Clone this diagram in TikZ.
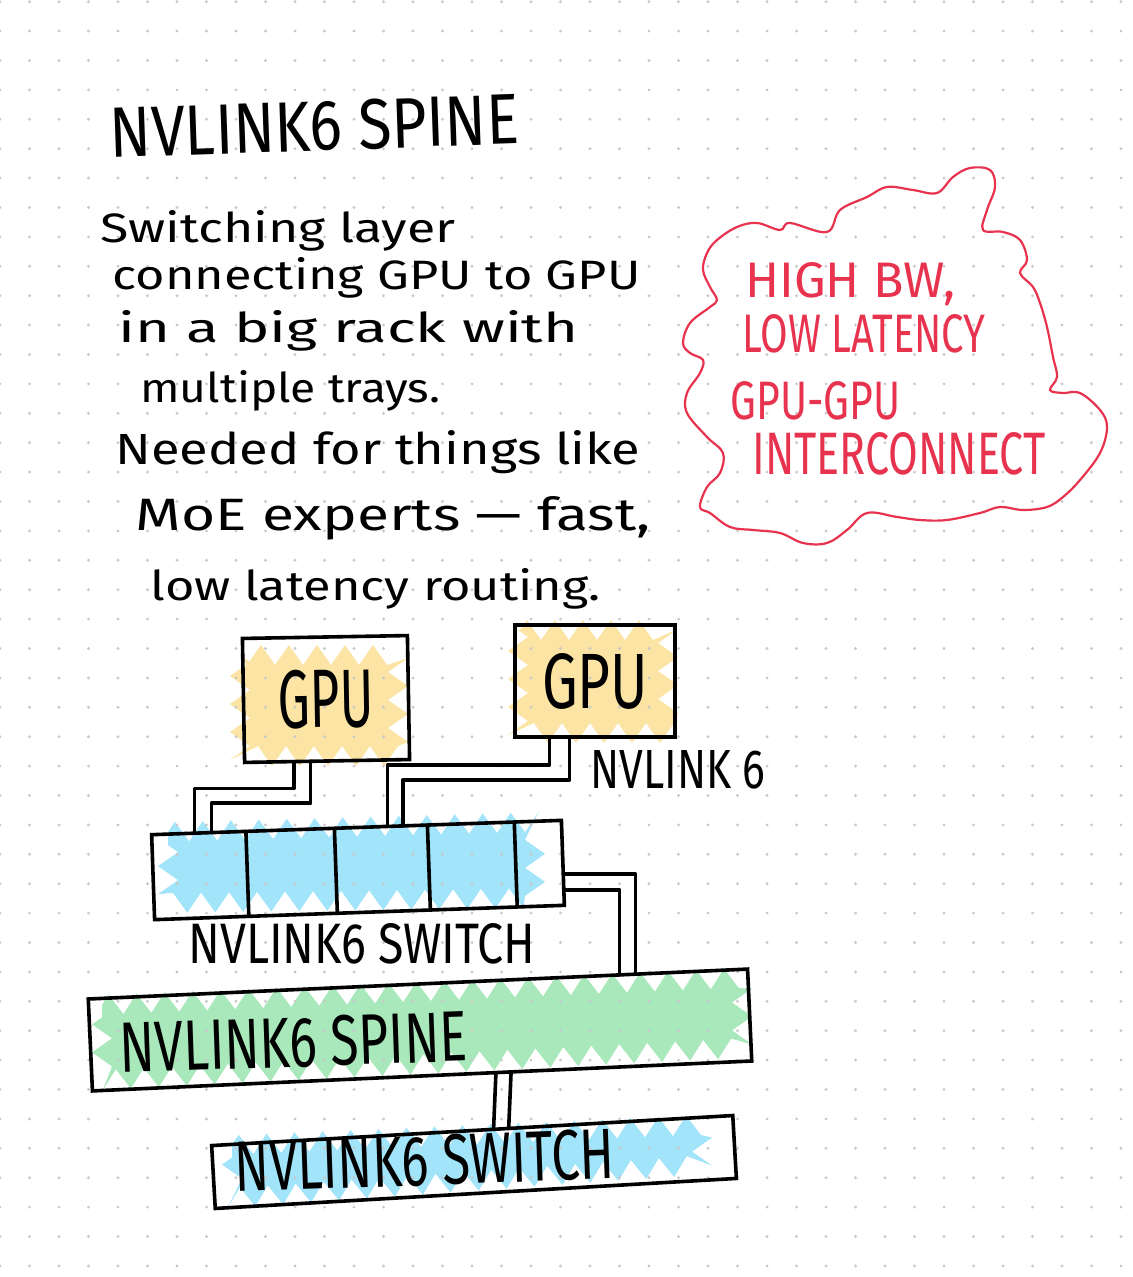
\documentclass[tikz,border=0pt]{standalone}
\usepackage{fontspec}
\setmainfont{Fira Sans}
\usetikzlibrary{calc,backgrounds,decorations.pathmorphing}
\definecolor{inkred}{HTML}{E8334F}
\definecolor{hlyellow}{HTML}{FBE4A4}
\definecolor{hlblue}{HTML}{A2E4FA}
\definecolor{hlgreen}{HTML}{A8E8BA}
\definecolor{dotgray}{HTML}{C9C9C9}
\begin{document}
\begin{tikzpicture}[x=0.5pt,y=-0.5pt,
  box/.style={draw=black, line width=1.8pt, inner sep=0pt, outer sep=0pt},
  cable/.style={line width=1.8pt, line join=round, line cap=round},
  hw/.style={inner sep=0pt, anchor=base west, text=black},
  redtxt/.style={hw, text=inkred},
  hl/.style={decorate, decoration={zigzag, segment length=14pt, amplitude=5pt}},
  cloudline/.style={draw=inkred, line width=1.1pt}
]
\useasboundingbox (0,0) rectangle (1132,1277);

% ---------- boxes ----------
\node[box, minimum width=82.5pt, minimum height=62pt, rotate=1] (gpu1) at (326,699)
  {\resizebox{48pt}{29pt}{GPU}};
\node[box, minimum width=80pt, minimum height=56pt] (gpu2) at (595,681)
  {\resizebox{53pt}{27.5pt}{GPU}};
\node[box, minimum width=205pt, minimum height=42.5pt, rotate=2] (sw1) at (358,870) {};
\node[box, minimum width=330pt, minimum height=46pt, rotate=2.6] (spine) at (420,1030) {};
\node[box, minimum width=261pt, minimum height=31.5pt, rotate=3.3] (sw2) at (474,1162) {};

% dividers of the top switch
\foreach \f in {0.23,0.446,0.673,0.885}
  \draw[cable] ($(sw1.north west)!\f!(sw1.north east)$) -- ($(sw1.south west)!\f!(sw1.south east)$);

% ---------- cables ----------
\draw[cable] ($(gpu1.south west)!0.30!(gpu1.south east)$) -- ++(0,27) -| ($(sw1.north west)!0.105!(sw1.north east)$);
\draw[cable] ($(gpu1.south west)!0.40!(gpu1.south east)$) -- ++(0,42) -| ($(sw1.north west)!0.146!(sw1.north east)$);
\draw[cable] ($(gpu2.south west)!0.215!(gpu2.south east)$) -- ++(0,28) -| ($(sw1.north west)!0.576!(sw1.north east)$);
\draw[cable] ($(gpu2.south west)!0.34!(gpu2.south east)$) -- ++(0,43) -| ($(sw1.north west)!0.613!(sw1.north east)$);
\draw[cable] ($(sw1.north east)!0.63!(sw1.south east)$) -| ($(spine.north west)!0.83!(spine.north east)$);
\draw[cable] ($(sw1.north east)!0.82!(sw1.south east)$) -| ($(spine.north west)!0.806!(spine.north east)$);
\draw[cable] ($(spine.south west)!0.612!(spine.south east)$) -- ($(sw2.north west)!0.541!(sw2.north east)$);
\draw[cable] ($(spine.south west)!0.635!(spine.south east)$) -- ($(sw2.north west)!0.57!(sw2.north east)$);

% ---------- labels ----------
\node[hw, rotate=2] (title) at (110,158) {\resizebox{205pt}{25pt}{NVLINK6 SPINE}};
\node[hw] (t1) at (100,243) {\resizebox{177.5pt}{16pt}{Switching layer}};
\node[hw] (t2) at (112,290) {\resizebox{264pt}{16pt}{connecting GPU to GPU}};
\node[hw] (t3) at (118,343) {\resizebox{230pt}{16pt}{in a big rack with}};
\node[hw] (t4) at (140,403) {\resizebox{150pt}{16pt}{multiple trays.}};
\node[hw] (t5) at (115,465) {\resizebox{262.5pt}{17pt}{Needed for things like}};
\node[hw] (t6) at (135,530) {\resizebox{257.5pt}{17pt}{MoE experts — fast,}};
\node[hw] (t7) at (150,600) {\resizebox{225pt}{16pt}{low latency routing.}};

\node[redtxt] (r1) at (745,298) {\resizebox{105pt}{17.5pt}{HIGH BW,}};
\node[redtxt] (r2) at (742,353) {\resizebox{121.5pt}{19pt}{LOW LATENCY}};
\node[redtxt] (r3) at (730,420) {\resizebox{85pt}{19pt}{GPU-GPU}};
\node[redtxt] (r4) at (752,474) {\resizebox{146.5pt}{21pt}{INTERCONNECT}};

\node[hw] (lnk) at (590,788) {\resizebox{87.5pt}{19pt}{NVLINK 6}};
\node[hw] (lsw1) at (188,963) {\resizebox{173.5pt}{20pt}{NVLINK6 SWITCH}};
\node[hw, rotate=2] (lsp) at (120,1073) {\resizebox{174pt}{25pt}{NVLINK6 SPINE}};
\node[hw, rotate=2] (lsw2) at (235,1192) {\resizebox{190pt}{25pt}{NVLINK6 SWITCH}};

% ---------- red cloud ----------
\draw[cloudline] plot[smooth cycle, tension=0.6] coordinates {
 (780,230) (790,223) (827,232) (840,210) (867,197) (887,187) (913,190) (937,193)
 (953,177) (970,168) (990,170) (995,187) (987,210) (983,230) (1003,232) (1020,240)
 (1027,260) (1020,273) (1033,287) (1040,303) (1047,327) (1053,357) (1057,377)
 (1050,390) (1063,393) (1080,393) (1100,410) (1107,427) (1100,453) (1080,480)
 (1063,497) (1047,507) (1023,510) (1000,507) (980,513) (947,520) (920,520)
 (897,517) (867,513) (847,530) (827,543) (803,543) (780,533) (753,530) (730,527)
 (710,513) (700,507) (707,487) (720,473) (723,453) (707,437) (687,413) (687,393)
 (700,373) (703,360) (690,353) (683,343) (690,323) (710,307) (717,300) (710,287)
 (703,270) (707,253) (717,240) (737,227) (757,223)};

% ---------- background: paper, highlighter, dots ----------
\begin{pgfonlayer}{background}
  \fill[white] (0,0) rectangle (1132,1277);
  \fill[hlyellow, hl] (240,655) rectangle (398,756);
  \fill[hlyellow, hl] (518,630) rectangle (668,733);
  \fill[hlblue, hl] (168,832) -- (535,822) -- (535,898) -- (168,903) -- cycle;
  \fill[hlgreen, hl] (102,1005) -- (742,978) -- (742,1048) -- (102,1080) -- cycle;
  \fill[hlblue, hl] (232,1145) -- (702,1125) -- (702,1165) -- (232,1198) -- cycle;
  \foreach \i in {0,...,38}
    \foreach \j in {0,...,43}
      \fill[dotgray] (\i*29.5, 1.7+\j*29.4) circle (0.8pt);
\end{pgfonlayer}
\end{tikzpicture}
\end{document}
